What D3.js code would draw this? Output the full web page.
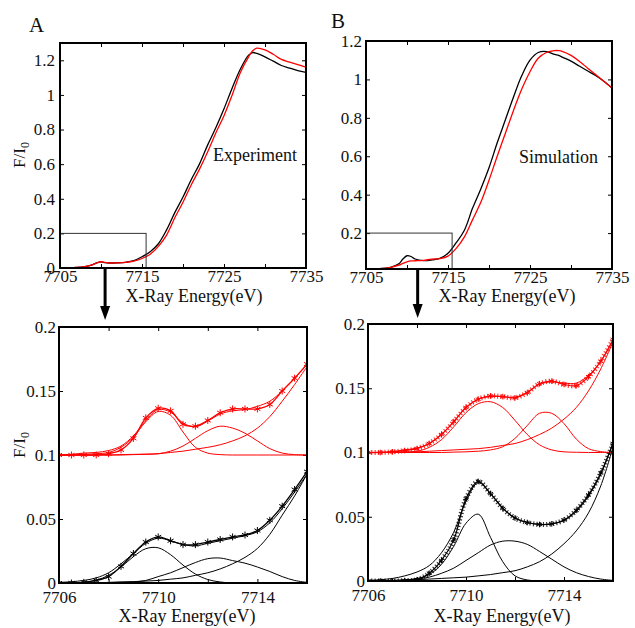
<!doctype html>
<html lang="en">
<head>
<meta charset="utf-8">
<title>XANES pre-edge</title>
<script src="https://cdn.jsdelivr.net/npm/d3@7"></script>
<style>
  body { margin: 0; background: #fff; }
</style>
</head>
<body>
<script>
// ---- data ----
var topEnergy = [7705,7706,7707,7708,7709,7709.5,7710,7710.5,7711,7712,7713,7714,7715,7716,7717,7718,7719,7720,7721,7722,7723,7724,7725,7726,7727,7728,7728.5,7729,7730,7731,7732,7733,7734,7735];
var expBlack = [0,0.001,0.003,0.008,0.02,0.03,0.035,0.031,0.029,0.03,0.033,0.042,0.065,0.094,0.14,0.22,0.32,0.41,0.51,0.6,0.71,0.81,0.92,1.04,1.15,1.23,1.245,1.24,1.22,1.195,1.17,1.155,1.14,1.13];
var expRed   = [0,0.001,0.003,0.008,0.02,0.03,0.036,0.032,0.029,0.03,0.033,0.04,0.055,0.08,0.125,0.19,0.29,0.38,0.48,0.57,0.67,0.78,0.88,1.0,1.13,1.22,1.255,1.27,1.26,1.235,1.205,1.19,1.175,1.16];
var simBlack = [0.013,0.014,0.016,0.022,0.04,0.065,0.082,0.078,0.065,0.057,0.06,0.068,0.095,0.15,0.215,0.33,0.43,0.54,0.67,0.79,0.91,1.02,1.1,1.14,1.145,1.13,1.125,1.115,1.095,1.07,1.045,1.02,0.99,0.955];
var simRed   = [0.013,0.014,0.016,0.022,0.033,0.042,0.05,0.055,0.056,0.058,0.064,0.067,0.08,0.12,0.18,0.27,0.36,0.475,0.6,0.72,0.84,0.95,1.04,1.11,1.14,1.15,1.15,1.145,1.125,1.095,1.06,1.025,0.99,0.955];

var preEnergy = [7706,7706.5,7707,7707.5,7708,7708.5,7709,7709.5,7710,7710.5,7711,7711.5,7712,7712.5,7713,7713.5,7714,7714.5,7715,7715.5,7716];
// experiment, black
var expBlackData  = [0,0,0.0005,0.002,0.005,0.013,0.023,0.032,0.036,0.033,0.030,0.030,0.032,0.034,0.036,0.0375,0.041,0.049,0.060,0.073,0.087];
var expBlackFit   = [0.0005,0.001,0.002,0.004,0.008,0.015,0.023,0.031,0.035,0.033,0.030,0.029,0.031,0.033,0.035,0.037,0.040,0.047,0.058,0.071,0.085];
var expBlackPeak1 = [0,0,0.0006,0.0022,0.006,0.0124,0.0206,0.0268,0.0275,0.0221,0.014,0.007,0.0027,0.0008,0,0,0,0,0,0,0];
var expBlackPeak2 = [0,0,0,0,0.0003,0.0006,0.001,0.002,0.005,0.008,0.012,0.016,0.019,0.0195,0.0175,0.0155,0.0125,0.009,0.005,0.002,0.0005];
var expBlackEdge  = [0,0,0,0,0.0005,0.0008,0.001,0.0015,0.002,0.003,0.004,0.006,0.008,0.011,0.015,0.020,0.027,0.038,0.053,0.068,0.085];
// experiment, red (shifted by 0.1)
var expRedData  = [0.1,0.1,0.1,0.1,0.101,0.104,0.113,0.129,0.1365,0.1345,0.124,0.1225,0.127,0.133,0.136,0.136,0.136,0.1395,0.150,0.160,0.171];
var expRedFit   = [0.1,0.1005,0.1015,0.102,0.1035,0.107,0.115,0.127,0.1355,0.1335,0.125,0.122,0.1265,0.132,0.1345,0.1355,0.138,0.142,0.150,0.160,0.1705];
var expRedPeak1 = [0.1,0.1,0.1005,0.101,0.102,0.106,0.114,0.126,0.134,0.131,0.118,0.106,0.1015,0.1003,0.1,0.1,0.1,0.1,0.1,0.1,0.1];
var expRedPeak2 = [0.1,0.1,0.1,0.1,0.1,0.1,0.1003,0.1005,0.101,0.103,0.107,0.113,0.119,0.1225,0.121,0.117,0.111,0.105,0.1015,0.1003,0.1];
var expRedEdge  = [0.1,0.1,0.1,0.1,0.1,0.1003,0.1005,0.1007,0.101,0.102,0.103,0.1045,0.106,0.108,0.111,0.115,0.121,0.130,0.142,0.155,0.169];
// simulation, black
var simBlackData  = [0,0,0,0.0003,0.001,0.006,0.016,0.032,0.064,0.0775,0.068,0.0565,0.049,0.0455,0.044,0.0445,0.0475,0.055,0.067,0.084,0.107];
var simBlackFit   = [0.0005,0.001,0.002,0.004,0.007,0.012,0.022,0.038,0.062,0.0765,0.068,0.057,0.049,0.0455,0.044,0.0445,0.047,0.054,0.066,0.083,0.108];
var simBlackPeak1 = [0,0,0,0.0008,0.002,0.005,0.013,0.027,0.045,0.052,0.034,0.015,0.004,0.0008,0,0,0,0,0,0,0];
var simBlackPeak2 = [0,0,0.0003,0.0008,0.0015,0.003,0.006,0.010,0.016,0.022,0.028,0.031,0.031,0.0285,0.023,0.017,0.011,0.0065,0.0035,0.0015,0.0005];
var simBlackEdge  = [0,0,0.0005,0.0007,0.001,0.0015,0.002,0.0025,0.003,0.004,0.005,0.0065,0.008,0.011,0.015,0.021,0.029,0.039,0.053,0.074,0.104];
// simulation, red (shifted by 0.1)
var simRedData  = [0.1,0.1,0.1005,0.1015,0.103,0.107,0.114,0.124,0.135,0.1415,0.144,0.1435,0.1425,0.1465,0.1535,0.1555,0.153,0.152,0.159,0.171,0.188];
var simRedFit   = [0.1,0.1003,0.1008,0.102,0.1035,0.107,0.114,0.124,0.135,0.1415,0.1435,0.1435,0.143,0.147,0.153,0.155,0.154,0.154,0.160,0.171,0.187];
var simRedPeak1 = [0.1,0.1,0.1,0.1005,0.101,0.104,0.110,0.120,0.131,0.138,0.1395,0.135,0.125,0.114,0.106,0.102,0.1005,0.1002,0.1,0.1,0.1];
var simRedPeak2 = [0.1,0.1,0.1,0.1,0.1,0.1,0.1,0.1003,0.1005,0.101,0.102,0.1045,0.111,0.121,0.1305,0.1305,0.1225,0.1105,0.103,0.1007,0.1];
var simRedEdge  = [0.1,0.1,0.1,0.1,0.1005,0.101,0.1015,0.102,0.1025,0.103,0.104,0.1055,0.107,0.110,0.114,0.119,0.126,0.135,0.148,0.165,0.186];

var topXTicks = [7705,7715,7725,7735];
var topXMinor = [7705,7710,7715,7720,7725,7730,7735];
var topYTicksA = [0,0.2,0.4,0.6,0.8,1,1.2];
var topYTicksB = [0.2,0.4,0.6,0.8,1,1.2];
var preXTicks = [7706,7710,7714];
var preXMinor = [7706,7708,7710,7712,7714,7716];
var preYTicks = [0,0.05,0.1,0.15,0.2];

var RED = "#ff0000", BLACK = "#000000";
var SERIF = "Liberation Serif";

var svg = d3.select("body").append("svg").attr("width", 635).attr("height", 628);

function zip(xs, ys) { return xs.map((x, i) => [x, ys[i]]); }

// one framed plot; returns scales and a clipped group
function panel(id, box, xDom, yDom, o) {
  var x = d3.scaleLinear().domain(xDom).range([box.l, box.r]);
  var y = d3.scaleLinear().domain(yDom).range([box.b, box.t]);
  svg.append("clipPath").attr("id", id)
    .append("rect").attr("x", box.l).attr("y", box.t).attr("width", box.r - box.l).attr("height", box.b - box.t);

  // inward ticks on all sides
  var tk = svg.append("g").attr("stroke", "#444");
  tk.append("g").attr("transform", `translate(0,${box.b})`).call(d3.axisBottom(x).tickValues(o.xMinor).tickSize(-4).tickFormat(""));
  tk.append("g").attr("transform", `translate(0,${box.t})`).call(d3.axisTop(x).tickValues(o.xMinor).tickSize(-4).tickFormat(""));
  tk.append("g").attr("transform", `translate(${box.l},0)`).call(d3.axisLeft(y).tickValues(o.yTicks).tickSize(-4).tickFormat(""));
  tk.append("g").attr("transform", `translate(${box.r},0)`).call(d3.axisRight(y).tickValues(o.yTicks).tickSize(-4).tickFormat(""));
  tk.selectAll(".domain").remove();

  // labels
  var xl = svg.append("g").attr("transform", `translate(0,${box.b})`)
    .call(d3.axisBottom(x).tickValues(o.xTicks).tickSize(0).tickPadding(o.xPad).tickFormat(d => d));
  var yl = svg.append("g").attr("transform", `translate(${box.l},0)`)
    .call(d3.axisLeft(y).tickValues(o.yTicks).tickSize(0).tickPadding(o.yPad).tickFormat(d => d));
  [xl, yl].forEach(g => {
    g.select(".domain").remove();
    g.attr("font-family", null).attr("font-size", null);
    g.selectAll("text").style("font-family", SERIF).style("font-size", "17px").attr("fill", "#111");
  });

  var plot = svg.append("g").attr("clip-path", `url(#${id})`);
  return { x: x, y: y, plot: plot, box: box };
}

function frame(p) {
  svg.append("rect").attr("x", p.box.l).attr("y", p.box.t)
    .attr("width", p.box.r - p.box.l).attr("height", p.box.b - p.box.t)
    .attr("fill", "none").attr("stroke", "#000").attr("stroke-width", 2);
}

function curve(p, xs, ys, color, w) {
  var line = d3.line().x(d => p.x(d[0])).y(d => p.y(d[1])).curve(d3.curveCatmullRom.alpha(0.5));
  return p.plot.append("path").datum(zip(xs, ys)).attr("d", line)
    .attr("fill", "none").attr("stroke", color).attr("stroke-width", w);
}

function stars(p, xs, ys, color, dense) {
  if (dense) {
    curve(p, xs, ys, color, 5).attr("stroke-dasharray", "1.1 2.2").attr("opacity", 0.8);
  }
  p.plot.selectAll(null).data(zip(xs, ys)).enter().append("path")
    .attr("transform", d => `translate(${p.x(d[0])},${p.y(d[1])})`)
    .attr("d", d3.symbol(d3.symbolAsterisk, dense ? 22 : 34))
    .attr("fill", "none").attr("stroke", color).attr("stroke-width", 1);
}

function label(x, y, size, str) {
  return svg.append("text").attr("x", x).attr("y", y)
    .style("font-family", SERIF).style("font-size", size + "px").attr("fill", "#111").text(str);
}
function xLabel(cx, y) {
  label(cx, y, 18, "X-Ray Energy(eV)").attr("text-anchor", "middle");
}
function yLabel(x, cy) {
  var t = svg.append("text").attr("transform", `translate(${x},${cy}) rotate(-90)`)
    .attr("text-anchor", "middle").style("font-family", SERIF).style("font-size", "17px").attr("fill", "#111");
  t.append("tspan").text("F/I");
  t.append("tspan").style("font-size", "12px").attr("dy", 4).text("0");
}
function arrow(x, y0, y1) {
  svg.append("line").attr("x1", x).attr("x2", x).attr("y1", y0).attr("y2", y1 - 12)
    .attr("stroke", "#000").attr("stroke-width", 3);
  svg.append("path").attr("d", `M${x - 5},${y1 - 14}L${x + 5},${y1 - 14}L${x},${y1}Z`).attr("fill", "#000");
}

// ---- top A: experiment ----
var tA = panel("cA", { l: 60, t: 43, r: 306, b: 268 }, [7705, 7735], [0, 1.3],
  { xTicks: topXTicks, xMinor: topXMinor, yTicks: topYTicksA, xPad: 2, yPad: 5 });
curve(tA, topEnergy, expBlack, BLACK, 1.3);
curve(tA, topEnergy, expRed, RED, 1.3);
tA.plot.append("rect").attr("x", tA.x(7705)).attr("y", tA.y(0.2))
  .attr("width", tA.x(7715.5) - tA.x(7705)).attr("height", tA.y(0) - tA.y(0.2))
  .attr("fill", "none").attr("stroke", "#333").attr("stroke-width", 1);
frame(tA);
label(213, 161, 18, "Experiment");
label(29, 32, 21, "A");
xLabel(194, 302);
yLabel(25, 155);
arrow(tA.x(7710.5), 269, 320);

// ---- top B: simulation ----
var tB = panel("cB", { l: 366, t: 41, r: 612, b: 269 }, [7705, 7735], [0.013, 1.2],
  { xTicks: topXTicks, xMinor: topXMinor, yTicks: topYTicksB, xPad: 2, yPad: 4 });
curve(tB, topEnergy, simBlack, BLACK, 1.3);
curve(tB, topEnergy, simRed, RED, 1.3);
tB.plot.append("rect").attr("x", tB.x(7705)).attr("y", tB.y(0.2))
  .attr("width", tB.x(7715.5) - tB.x(7705)).attr("height", tB.y(0.013) - tB.y(0.2) + 2)
  .attr("fill", "none").attr("stroke", "#333").attr("stroke-width", 1);
frame(tB);
label(519, 163, 18, "Simulation");
label(331, 28, 21, "B");
xLabel(507, 302);
arrow(tB.x(7711.3), 270, 318);

// ---- bottom A: experiment pre-edge fit ----
var bA = panel("cC", { l: 59, t: 327, r: 307, b: 583 }, [7706, 7716], [0, 0.2],
  { xTicks: preXTicks, xMinor: preXMinor, yTicks: preYTicks, xPad: 8, yPad: 3 });
[expRedPeak1, expRedPeak2, expRedEdge, expRedFit].forEach(s => curve(bA, preEnergy, s, RED, 1));
curve(bA, preEnergy, expRedData, RED, 1.3);
stars(bA, preEnergy, expRedData, RED, false);
[expBlackPeak1, expBlackPeak2, expBlackEdge, expBlackFit].forEach(s => curve(bA, preEnergy, s, BLACK, 1));
curve(bA, preEnergy, expBlackData, BLACK, 1.3);
stars(bA, preEnergy, expBlackData, BLACK, false);
frame(bA);
xLabel(187, 622);
yLabel(25, 445);

// ---- bottom B: simulation pre-edge fit ----
var bB = panel("cD", { l: 368, t: 324, r: 613, b: 581 }, [7706, 7716], [0, 0.2],
  { xTicks: preXTicks, xMinor: preXMinor, yTicks: preYTicks, xPad: 8, yPad: 3 });
[simRedPeak1, simRedPeak2, simRedEdge, simRedFit].forEach(s => curve(bB, preEnergy, s, RED, 1));
curve(bB, preEnergy, simRedData, RED, 1.2);
stars(bB, preEnergy, simRedData, RED, true);
[simBlackPeak1, simBlackPeak2, simBlackEdge, simBlackFit].forEach(s => curve(bB, preEnergy, s, BLACK, 1));
curve(bB, preEnergy, simBlackData, BLACK, 1.2);
stars(bB, preEnergy, simBlackData, BLACK, true);
frame(bB);
xLabel(502, 622);
</script>
</body>
</html>
